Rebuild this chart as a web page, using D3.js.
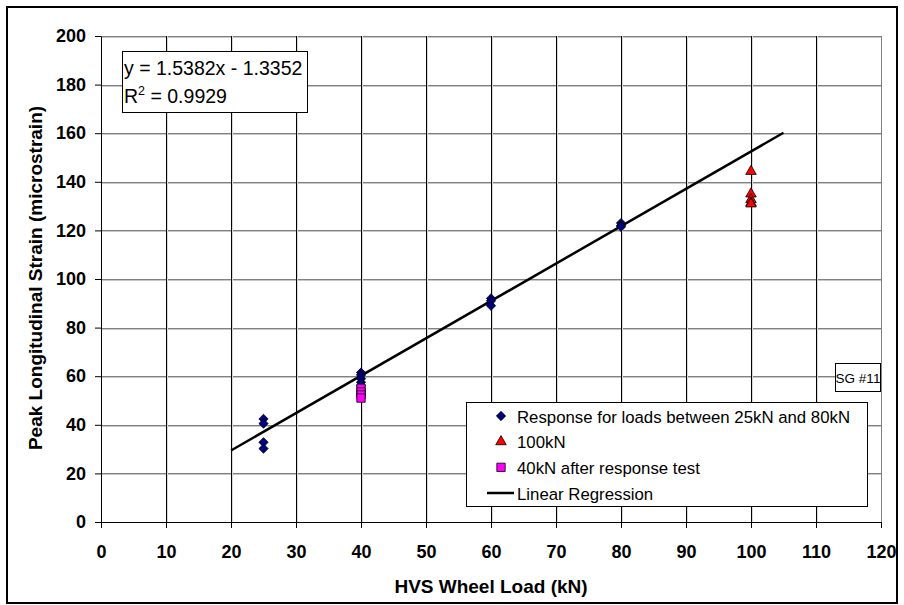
<!DOCTYPE html>
<html>
<head>
<meta charset="utf-8">
<script src="https://cdnjs.cloudflare.com/ajax/libs/d3/7.8.5/d3.min.js"></script>
<style>
  body { margin: 0; background: #fff; }
  text { font-family: "Liberation Sans", Arial, sans-serif; }
</style>
</head>
<body>
<div id="chart"></div>
<script>
// data
var responseLoads = [25, 25, 25, 25, 40, 40, 40, 40, 40, 60, 60, 60, 80, 80, 80];
var responseStrain = [42.4, 40.5, 32.8, 30.2, 61.5, 60.5, 59, 57.5, 56, 92, 91, 89, 123, 122, 121.5];
var load100 = [100, 100, 100, 100, 100];
var strain100 = [144.3, 135, 132.7, 131.3, 130.9];
var afterLoads = [40, 40, 40, 40];
var afterStrain = [55, 53.5, 52.3, 51];
var regSlope = 1.5382, regIntercept = -1.3352;
var regRange = [20, 105];
var xTicks = d3.range(0, 121, 10);
var yTicks = d3.range(0, 201, 20);
var legendLabels = ["Response for loads between 25kN and 80kN", "100kN", "40kN after response test", "Linear Regression"];

var W = 904, H = 605;
var margin = {left: 101, right: 23, top: 36, bottom: 83};
var width = W - margin.left - margin.right,
    height = H - margin.top - margin.bottom;

var svg = d3.select("#chart").append("svg")
    .attr("width", W)
    .attr("height", H);

// outer frame
svg.append("rect")
    .attr("x", 7).attr("y", 7)
    .attr("width", 890).attr("height", 596)
    .attr("fill", "none")
    .attr("stroke", "#000")
    .attr("stroke-width", 2);

var g = svg.append("g")
    .attr("transform", "translate(" + margin.left + "," + margin.top + ")");

var x = d3.scaleLinear().domain([0, 120]).range([0, width]);
var y = d3.scaleLinear().domain([0, 200]).range([height, 0]);

// horizontal grid (grey, with a light shadow below)
var hg = g.append("g").selectAll("g")
    .data(yTicks.slice(1))
    .enter().append("g")
    .attr("transform", function(d) { return "translate(0," + Math.round(y(d)) + ")"; });
hg.append("line")
    .attr("x1", 0).attr("x2", width)
    .attr("y1", 1.5).attr("y2", 1.5)
    .attr("stroke", "#c8c8c8");
hg.append("line")
    .attr("x1", 0).attr("x2", width)
    .attr("y1", 0.5).attr("y2", 0.5)
    .attr("stroke", "#808080");

// vertical grid (black)
var vg = g.append("g").selectAll("g")
    .data(xTicks.slice(1, -1))
    .enter().append("g")
    .attr("transform", function(d) { return "translate(" + Math.round(x(d)) + ",0)"; });
vg.append("line")
    .attr("x1", 1.5).attr("x2", 1.5)
    .attr("y1", 0).attr("y2", height)
    .attr("stroke", "#d8d8d8");
vg.append("line")
    .attr("x1", 0.5).attr("x2", 0.5)
    .attr("y1", 0).attr("y2", height)
    .attr("stroke", "#000");

// right border grey
g.append("line")
    .attr("x1", width + 0.5).attr("x2", width + 0.5)
    .attr("y1", 0).attr("y2", height)
    .attr("stroke", "#808080");

// axes
var xAxis = g.append("g")
    .attr("transform", "translate(0," + height + ")")
    .call(d3.axisBottom(x).tickValues(xTicks).tickSize(6).tickPadding(17).tickSizeOuter(0));
var yAxis = g.append("g")
    .call(d3.axisLeft(y).tickValues(yTicks).tickSize(6).tickPadding(9).tickSizeOuter(0));

[xAxis, yAxis].forEach(function(a) {
  a.select(".domain").attr("stroke", "#000");
  a.selectAll(".tick line").attr("stroke", "#000");
  a.selectAll(".tick text")
      .attr("fill", "#000")
      .style("font-family", "'Liberation Sans', Arial, sans-serif")
      .style("font-size", "18px")
      .style("font-weight", "bold");
});

// regression line
g.append("line")
    .attr("x1", x(regRange[0]))
    .attr("y1", y(regSlope * regRange[0] + regIntercept))
    .attr("x2", x(regRange[1]))
    .attr("y2", y(regSlope * regRange[1] + regIntercept))
    .attr("stroke", "#000")
    .attr("stroke-width", 2.5);

// markers
var diamond = d3.symbol().type(d3.symbolDiamond2).size(55);
var triangle = d3.symbol().type(d3.symbolTriangle).size(48);
var square = d3.symbol().type(d3.symbolSquare).size(70);

function drawSeries(xs, ys, sym, fill) {
  g.append("g").selectAll("path")
      .data(xs.map(function(d, i) { return [d, ys[i]]; }))
      .enter().append("path")
      .attr("d", sym)
      .attr("transform", function(d) { return "translate(" + x(d[0]) + "," + y(d[1]) + ")"; })
      .attr("fill", fill)
      .attr("stroke", "#000")
      .attr("stroke-width", 0.8);
}
drawSeries(responseLoads, responseStrain, diamond, "#000080");
drawSeries(load100, strain100, triangle, "#ff0000");
drawSeries(afterLoads, afterStrain, square, "#ff00ff");

// equation box
var eq = svg.append("g");
eq.append("rect")
    .attr("x", 122.5).attr("y", 51.5)
    .attr("width", 185).attr("height", 61)
    .attr("fill", "#fff")
    .attr("stroke", "#000");
eq.append("text")
    .attr("x", 124).attr("y", 75)
    .style("font-size", "19.5px")
    .text("y = 1.5382x - 1.3352");
var r2 = eq.append("text")
    .attr("x", 124).attr("y", 103)
    .style("font-size", "19.5px");
r2.append("tspan").text("R");
r2.append("tspan").attr("dy", -8).style("font-size", "12.5px").text("2");
r2.append("tspan").attr("dy", 8).text(" = 0.9929");

// SG label
svg.append("rect")
    .attr("x", 835.5).attr("y", 363.5)
    .attr("width", 45).attr("height", 28)
    .attr("fill", "#fff")
    .attr("stroke", "#000");
svg.append("text")
    .attr("x", 858).attr("y", 382.5)
    .attr("text-anchor", "middle")
    .style("font-size", "13.5px")
    .text("SG #11");

// legend
var leg = svg.append("g");
leg.append("rect")
    .attr("x", 466.5).attr("y", 402.5)
    .attr("width", 401).attr("height", 104)
    .attr("fill", "#fff")
    .attr("stroke", "#000");
var legY = d3.scalePoint().domain(legendLabels).range([416, 493]);
var legSyms = [diamond, triangle, square];
var legFills = ["#000080", "#ff0000", "#ff00ff"];
legendLabels.forEach(function(lbl, i) {
  var yy = legY(lbl);
  if (i < 3) {
    leg.append("path")
        .attr("d", legSyms[i])
        .attr("transform", "translate(501," + yy + ")")
        .attr("fill", legFills[i])
        .attr("stroke", "#000")
        .attr("stroke-width", 0.8);
  } else {
    leg.append("line")
        .attr("x1", 487).attr("x2", 514)
        .attr("y1", yy).attr("y2", yy)
        .attr("stroke", "#000")
        .attr("stroke-width", 2.5);
  }
  leg.append("text")
      .attr("x", 517).attr("y", yy + 6.5)
      .style("font-size", "16.8px")
      .text(lbl);
});

// axis titles
svg.append("text")
    .attr("x", margin.left + width / 2).attr("y", 593)
    .attr("text-anchor", "middle")
    .style("font-size", "19px")
    .style("font-weight", "bold")
    .text("HVS Wheel Load (kN)");
svg.append("text")
    .attr("transform", "translate(41.5,278) rotate(-90)")
    .attr("text-anchor", "middle")
    .style("font-size", "19px")
    .style("font-weight", "bold")
    .text("Peak Longitudinal Strain (microstrain)");
</script>
</body>
</html>
